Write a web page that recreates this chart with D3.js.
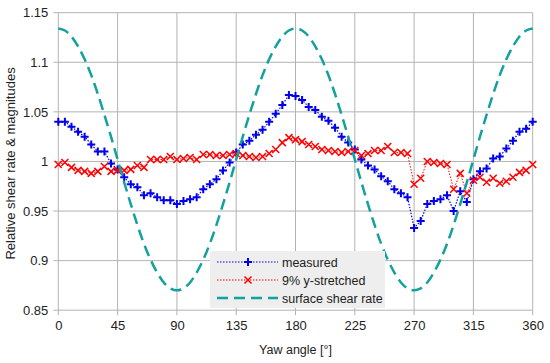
<!DOCTYPE html>
<html>
<head>
<meta charset="utf-8">
<title>Relative shear rate</title>
<script src="https://d3js.org/d3.v7.min.js"></script>
<style>
body { margin: 0; background: #fff; }
svg { font-family: "Liberation Sans", Arial, sans-serif; }
.grid line { stroke: #b3b3b3; stroke-width: 1; }
.tick text { fill: #222; font-size: 13px; }
</style>
</head>
<body>
<div id="chart"></div>
<script>
// yaw angles, every 5 degrees
var angles = d3.range(0, 361, 5);

var measured = [1.040, 1.040, 1.035, 1.030, 1.025, 1.017, 1.010, 1.010, 0.998, 0.992,
  0.984, 0.977, 0.974, 0.966, 0.968, 0.964, 0.961, 0.961, 0.957, 0.960,
  0.962, 0.964, 0.972, 0.977, 0.982, 0.991, 0.999, 1.009, 1.017, 1.021,
  1.027, 1.032, 1.040, 1.048, 1.057, 1.067, 1.066, 1.062, 1.055, 1.052,
  1.045, 1.041, 1.034, 1.025, 1.019, 1.012, 1.002, 0.996, 0.992, 0.985,
  0.980, 0.972, 0.968, 0.964, 0.933, 0.940, 0.957, 0.960, 0.962, 0.966,
  0.950, 0.970, 0.959, 0.982, 0.990, 0.993, 1.003, 1.005, 1.013, 1.021,
  1.030, 1.033, 1.040];

var stretched = [0.997, 0.999, 0.994, 0.991, 0.990, 0.988, 0.990, 0.995, 0.990, 0.991,
  0.991, 0.992, 0.996, 0.994, 1.002, 1.002, 1.002, 1.005, 1.002, 1.003,
  1.004, 1.002, 1.007, 1.007, 1.006, 1.006, 1.007, 1.008, 1.006, 1.005,
  1.004, 1.005, 1.008, 1.012, 1.019, 1.024, 1.022, 1.020, 1.017, 1.015,
  1.012, 1.011, 1.010, 1.009, 1.010, 1.011, 1.006, 1.008, 1.011, 1.011,
  1.015, 1.009, 1.009, 1.008, 0.977, 0.983, 1.000, 0.999, 0.998, 0.997,
  0.972, 0.988, 0.968, 0.981, 0.984, 0.979, 0.983, 0.978, 0.980, 0.984,
  0.989, 0.991, 0.997];

var surface = [1.134, 1.132, 1.126, 1.116, 1.103, 1.087, 1.068, 1.047, 1.025, 1.002,
  0.979, 0.957, 0.936, 0.917, 0.901, 0.888, 0.878, 0.872, 0.870, 0.872,
  0.878, 0.888, 0.901, 0.917, 0.936, 0.957, 0.979, 1.002, 1.025, 1.047,
  1.068, 1.087, 1.103, 1.116, 1.126, 1.132, 1.134, 1.132, 1.126, 1.116,
  1.103, 1.087, 1.068, 1.047, 1.025, 1.002, 0.979, 0.957, 0.936, 0.917,
  0.901, 0.888, 0.878, 0.872, 0.870, 0.872, 0.878, 0.888, 0.901, 0.917,
  0.936, 0.957, 0.979, 1.002, 1.025, 1.047, 1.068, 1.087, 1.103, 1.116,
  1.126, 1.132, 1.134];

var xTicks = [0, 45, 90, 135, 180, 225, 270, 315, 360];
var yTicks = [0.85, 0.9, 0.95, 1, 1.05, 1.1, 1.15];

var w = 550, h = 363;
var svg = d3.select("#chart").append("svg")
  .attr("width", w)
  .attr("height", h);

var x = d3.scaleLinear().domain([0, 360]).range([58.3, 532.7]);
var y = d3.scaleLinear().domain([0.85, 1.15]).range([310.2, 12.7]);

// grid
var grid = svg.append("g").attr("class", "grid");
grid.selectAll("line.v").data(xTicks).enter().append("line")
  .attr("x1", d => x(d)).attr("x2", d => x(d))
  .attr("y1", y(1.15)).attr("y2", y(0.85) + 5);
grid.selectAll("line.h").data(yTicks).enter().append("line")
  .attr("x1", x(0) - 5).attr("x2", x(360))
  .attr("y1", d => y(d)).attr("y2", d => y(d));

// axes (labels only, lines come from the grid)
svg.append("g")
  .attr("transform", "translate(0," + y(0.85) + ")")
  .call(d3.axisBottom(x).tickValues(xTicks).tickSize(0).tickPadding(11));
svg.append("g")
  .attr("transform", "translate(" + x(0) + ",0)")
  .call(d3.axisLeft(y).tickValues(yTicks).tickFormat(d3.format("~g")).tickSize(0).tickPadding(10));
svg.selectAll(".domain").remove();
svg.selectAll(".tick text").attr("font-family", "Liberation Sans, Arial, sans-serif");

svg.append("text")
  .attr("x", (x(0) + x(360)) / 2).attr("y", 354)
  .attr("text-anchor", "middle").attr("font-size", 12.5).attr("fill", "#222")
  .text("Yaw angle [°]");
svg.append("text")
  .attr("transform", "translate(15," + (y(1) + 2) + ") rotate(-90)")
  .attr("text-anchor", "middle").attr("font-size", 13).attr("fill", "#222")
  .text("Relative shear rate & magnitudes");

var line = d3.line().x((d, i) => x(angles[i])).y(d => y(d));
var smooth = d3.line().curve(d3.curveMonotoneX).x((d, i) => x(angles[i])).y(d => y(d));

function drawPlus(g, cx, cy) {
  g.append("path")
    .attr("d", "M" + (cx - 4) + "," + cy + "H" + (cx + 4) + "M" + cx + "," + (cy - 4) + "V" + (cy + 4))
    .attr("stroke", "#0000ee").attr("stroke-width", 2).attr("fill", "none");
}
function drawCross(g, cx, cy) {
  g.append("path")
    .attr("d", "M" + (cx - 3.5) + "," + (cy - 3.5) + "L" + (cx + 3.5) + "," + (cy + 3.5) +
      "M" + (cx - 3.5) + "," + (cy + 3.5) + "L" + (cx + 3.5) + "," + (cy - 3.5))
    .attr("stroke", "#ff0000").attr("stroke-width", 1.5).attr("fill", "none");
}

// measured
svg.append("path").datum(measured)
  .attr("d", line).attr("fill", "none")
  .attr("stroke", "#0000ee").attr("stroke-width", 1.2).attr("stroke-dasharray", "1.5,1.5");
var mg = svg.append("g");
measured.forEach((d, i) => drawPlus(mg, x(angles[i]), y(d)));

// 9% y-stretched
svg.append("path").datum(stretched)
  .attr("d", line).attr("fill", "none")
  .attr("stroke", "#ff0000").attr("stroke-width", 1).attr("stroke-dasharray", "1.5,1.5");
var sg = svg.append("g");
stretched.forEach((d, i) => drawCross(sg, x(angles[i]), y(d)));

// surface shear rate
svg.append("path").datum(surface)
  .attr("d", smooth).attr("fill", "none")
  .attr("stroke", "#13a19d").attr("stroke-width", 2.5).attr("stroke-dasharray", "11,6");

// legend
var lg = svg.append("g");
lg.append("rect").attr("x", 210).attr("y", 251).attr("width", 175).attr("height", 57)
  .attr("fill", "#eeeeee");
var ly = [262, 280, 298];
lg.append("line").attr("x1", 217).attr("x2", 278).attr("y1", ly[0]).attr("y2", ly[0])
  .attr("stroke", "#0000ee").attr("stroke-width", 1.2).attr("stroke-dasharray", "1.5,1.5");
drawPlus(lg, 248, ly[0]);
lg.append("line").attr("x1", 217).attr("x2", 278).attr("y1", ly[1]).attr("y2", ly[1])
  .attr("stroke", "#ff0000").attr("stroke-width", 1).attr("stroke-dasharray", "1.5,1.5");
drawCross(lg, 248, ly[1]);
lg.append("line").attr("x1", 217).attr("x2", 278).attr("y1", ly[2]).attr("y2", ly[2])
  .attr("stroke", "#13a19d").attr("stroke-width", 2.5).attr("stroke-dasharray", "11,6");
var names = ["measured", "9% y-stretched", "surface shear rate"];
lg.selectAll("text").data(names).enter().append("text")
  .attr("x", 282).attr("y", (d, i) => ly[i] + 4.5)
  .attr("font-size", 12.5).attr("fill", "#222")
  .text(d => d);
</script>
</body>
</html>
